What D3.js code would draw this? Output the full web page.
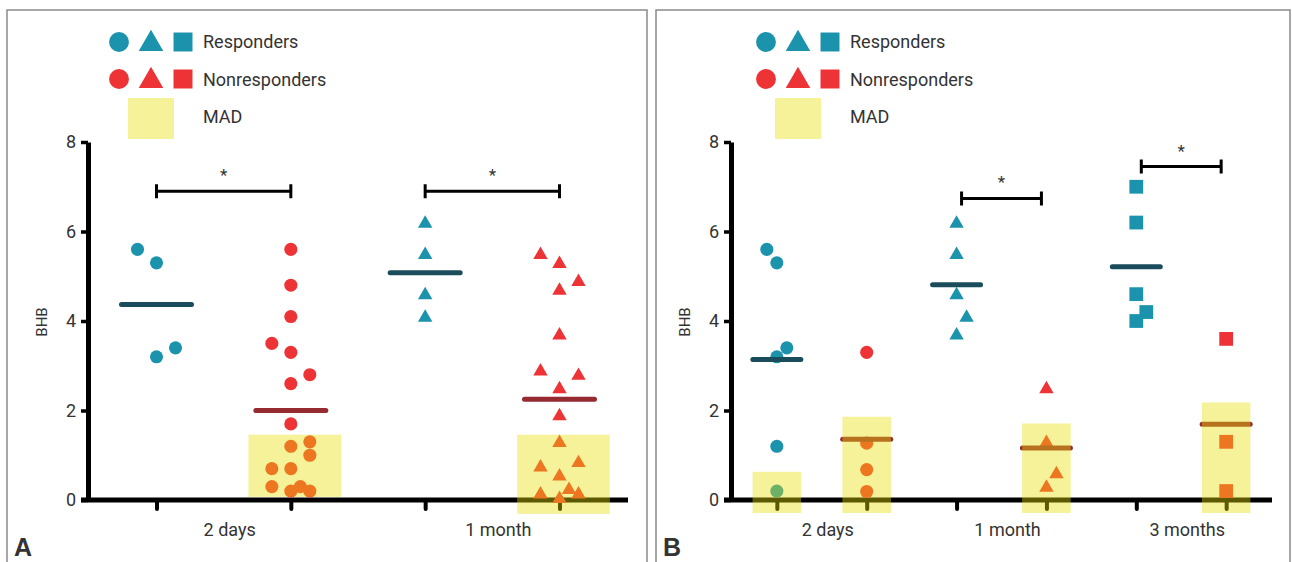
<!DOCTYPE html>
<html>
<head>
<meta charset="utf-8">
<script src="https://cdn.jsdelivr.net/npm/d3@7"></script>
<style>
  body { margin: 0; background: #fff; }
  svg text { font-family: Roboto, "Open Sans", sans-serif; fill: #333; }
</style>
</head>
<body>
<svg id="chart" width="1292" height="562"></svg>
<script>
// ---- data ----
var yTicks = [0, 2, 4, 6, 8];

// panel A
var timepointsA = ["2 days", "1 month"];
var shapesA = ["circle", "triangle"];
// [BHB, lane]  lane = jitter column (-1, 0, 1)
var respValuesA = [
  [[5.6, -1], [5.3, 0], [3.4, 1], [3.2, 0]],
  [[6.2, 0], [5.5, 0], [4.6, 0], [4.1, 0]]
];
var nonValuesA = [
  [[5.6, 0], [4.8, 0], [4.1, 0], [3.5, -1], [3.3, 0], [2.8, 1], [2.6, 0], [1.7, 0], [1.2, 0], [1.3, 1],
   [1.0, 1], [0.7, -1], [0.7, 0], [0.3, -1], [0.2, 0], [0.3, 0.5], [0.2, 1]],
  [[5.5, -1], [5.3, 0], [4.9, 1], [4.7, 0], [3.7, 0], [2.9, -1], [2.8, 1], [2.5, 0], [1.9, 0], [1.3, 0],
   [0.75, -1], [0.85, 1], [0.55, 0], [0.15, -1], [0.25, 0.5], [0.15, 1], [0.05, 0]]
];
var respMeansA = [4.37, 5.08];
var nonMeansA = [2.0, 2.25];
var respMadA = [null, null];
var nonMadA = [[0.07, 1.46], [-0.31, 1.46]];
var sigBarsA = [6.9, 6.9];

// panel B
var timepointsB = ["2 days", "1 month", "3 months"];
var shapesB = ["circle", "triangle", "square"];
var respValuesB = [
  [[5.6, -1], [5.3, 0], [3.4, 1], [3.2, 0], [1.2, 0], [0.2, 0]],
  [[6.2, 0], [5.5, 0], [4.6, 0], [4.1, 1], [3.7, 0]],
  [[7.0, 0], [6.2, 0], [4.6, 0], [4.2, 1], [4.0, 0]]
];
var nonValuesB = [
  [[3.3, 0], [1.27, 0], [0.68, 0], [0.19, 0]],
  [[2.5, 0], [1.3, 0], [0.6, 1], [0.3, 0]],
  [[3.6, 0], [1.3, 0], [0.2, 0]]
];
var respMeansB = [3.14, 4.81, 5.21];
var nonMeansB = [1.36, 1.16, 1.69];
var respMadB = [[-0.29, 0.63], null, null];
var nonMadB = [[-0.29, 1.86], [-0.29, 1.71], [-0.29, 2.18]];
var sigBarsB = [null, 6.74, 7.45];

var legendLabels = ["Responders", "Nonresponders", "MAD"];

// ---- styles ----
var TEAL = "#1b93ad";
var RED = "#ee3336";
var TEAL_DARK = "#1b4c5c";
var RED_DARK = "#952a30";
var MAD_FILL = "rgb(232,222,0)";
var MAD_OPACITY = 0.4;
var FONT = "Roboto, 'Open Sans', sans-serif";

var svg = d3.select("#chart");

var symbolTypes = { circle: d3.symbolCircle, triangle: d3.symbolTriangle, square: d3.symbolSquare };
var symbolSizes = { circle: 135, triangle: 90, square: 190 };
var legendSizes = { circle: 310, triangle: 260, square: 360 };

function buildGroups(timepoints, shapes, rv, nv, rm, nm, rmad, nmad){
  var groups = [];
  timepoints.forEach(function(t, i){
    groups.push({ key: t + "|R", tp: i, shape: shapes[i], resp: true, values: rv[i], mean: rm[i], mad: rmad[i] });
    groups.push({ key: t + "|N", tp: i, shape: shapes[i], resp: false, values: nv[i], mean: nm[i], mad: nmad[i] });
  });
  return groups;
}

function drawPanel(cfg){
  var g = svg.append("g");

  // frame
  g.append("rect")
    .attr("x", cfg.frame[0]).attr("y", 10)
    .attr("width", cfg.frame[1] - cfg.frame[0]).attr("height", 600)
    .attr("fill", "none").attr("stroke", "#8a8a8a").attr("stroke-width", 1.5);

  var y = d3.scaleLinear().domain([0, 8]).range([500, 142]);
  var x = d3.scalePoint()
    .domain(cfg.groups.map(function(d){ return d.key; }))
    .range([cfg.left, cfg.right])
    .padding(0.51);
  var step = x.step();
  var lane = d3.scaleLinear().domain([-1, 1]).range([-cfg.lane, cfg.lane]);

  // y axis
  var yAxis = g.append("g")
    .attr("transform", "translate(" + cfg.left + ",0)")
    .call(d3.axisLeft(y).tickValues(yTicks).tickSize(7).tickSizeOuter(0).tickPadding(5));
  yAxis.select(".domain").attr("stroke", "#000").attr("stroke-width", 5);
  yAxis.selectAll(".tick line").attr("stroke", "#000").attr("stroke-width", 3.5);
  yAxis.selectAll(".tick text")
    .style("font-size", "18px").style("font-family", FONT)
    .attr("fill", "#333");

  // x axis
  var xAxis = g.append("g")
    .attr("transform", "translate(0,500)")
    .call(d3.axisBottom(x).tickSize(9).tickSizeOuter(0).tickFormat(""));
  xAxis.select(".domain").attr("stroke", "#000").attr("stroke-width", 5)
    .attr("d", "M" + (cfg.left - 7) + ",0H" + cfg.right);
  xAxis.selectAll(".tick line").attr("stroke", "#000").attr("stroke-width", 4).attr("stroke-linecap", "round");

  // category labels
  g.selectAll("text.cat").data(cfg.timepoints).enter().append("text")
    .attr("class", "cat")
    .attr("x", function(d, i){ return (x(d + "|R") + x(d + "|N")) / 2 + 6; })
    .attr("y", 536)
    .attr("text-anchor", "middle")
    .style("font-size", "18px")
    .text(function(d){ return d; });

  // y label
  g.append("text")
    .attr("transform", "translate(" + (cfg.left - 41) + ",322) rotate(-90)")
    .attr("text-anchor", "middle")
    .style("font-size", "15px")
    .text("BHB");

  // points
  var pts = [];
  cfg.groups.forEach(function(gr){
    gr.values.forEach(function(v){
      pts.push({ key: gr.key, shape: gr.shape, resp: gr.resp, value: v[0], lane: v[1] });
    });
  });
  g.selectAll("path.pt").data(pts).enter().append("path")
    .attr("class", "pt")
    .attr("transform", function(d){
      var dy = d.shape == "triangle" ? 1 : 0;
      return "translate(" + (x(d.key) + lane(d.lane)) + "," + (y(d.value) + dy) + ")";
    })
    .attr("d", function(d){ return d3.symbol().type(symbolTypes[d.shape]).size(symbolSizes[d.shape])(); })
    .attr("fill", function(d){ return d.resp ? TEAL : RED; });

  // mean lines
  g.selectAll("line.mean").data(cfg.groups).enter().append("line")
    .attr("class", "mean")
    .attr("x1", function(d){ return x(d.key) - cfg.meanHalf; })
    .attr("x2", function(d){ return x(d.key) + cfg.meanHalf; })
    .attr("y1", function(d){ return y(d.mean); })
    .attr("y2", function(d){ return y(d.mean); })
    .attr("stroke", function(d){ return d.resp ? TEAL_DARK : RED_DARK; })
    .attr("stroke-width", 5)
    .attr("stroke-linecap", "round");

  // significance bars
  var bars = cfg.timepoints.map(function(t, i){ return { tp: t, value: cfg.sig[i] }; })
    .filter(function(d){ return d.value != null; });
  var bar = g.selectAll("g.sig").data(bars).enter().append("g").attr("class", "sig");
  bar.append("path")
    .attr("d", function(d){
      var x1 = x(d.tp + "|R") + cfg.sigInset, x2 = x(d.tp + "|N") - cfg.sigInset, yy = y(d.value);
      return "M" + x1 + "," + (yy - 7) + "V" + (yy + 7) + "M" + x1 + "," + yy + "H" + x2 +
        "M" + x2 + "," + (yy - 7) + "V" + (yy + 7);
    })
    .attr("fill", "none").attr("stroke", "#000").attr("stroke-width", 3);
  bar.append("text")
    .attr("x", function(d){ return (x(d.tp + "|R") + x(d.tp + "|N")) / 2; })
    .attr("y", function(d){ return y(d.value) - 10; })
    .attr("text-anchor", "middle")
    .style("font-size", "17px")
    .text("*");

  // MAD boxes sit on top (translucent yellow)
  var boxW = step * cfg.boxFrac;
  g.selectAll("rect.mad").data(cfg.groups.filter(function(d){ return d.mad; })).enter().append("rect")
    .attr("class", "mad")
    .attr("x", function(d){ return x(d.key) - boxW / 2 + cfg.boxShift; })
    .attr("width", boxW)
    .attr("y", function(d){ return y(d.mad[1]); })
    .attr("height", function(d){ return y(d.mad[0]) - y(d.mad[1]); })
    .attr("fill", MAD_FILL).attr("fill-opacity", MAD_OPACITY);

  // legend
  var lg = g.append("g").attr("transform", "translate(" + cfg.legendX + ",0)");
  ["circle", "triangle", "square"].forEach(function(s, i){
    [TEAL, RED].forEach(function(c, j){
      lg.append("path")
        .attr("transform", "translate(" + (i * 32) + "," + (42 + j * 37 + (s == "triangle" ? 2 : 0)) + ")")
        .attr("d", d3.symbol().type(symbolTypes[s]).size(legendSizes[s])())
        .attr("fill", c);
    });
  });
  lg.append("rect")
    .attr("x", 9).attr("y", 98).attr("width", 46).attr("height", 41)
    .attr("fill", MAD_FILL).attr("fill-opacity", MAD_OPACITY);
  lg.selectAll("text").data(legendLabels).enter().append("text")
    .attr("x", 84)
    .attr("y", function(d, i){ return 48 + i * 37.5; })
    .style("font-size", "18px")
    .text(function(d){ return d; });

  // panel letter
  g.append("text")
    .attr("x", cfg.frame[0] + 7).attr("y", 556)
    .style("font-family", "'Liberation Sans', Arial, sans-serif")
    .style("font-weight", "bold").style("font-size", "25px")
    .attr("fill", "#111")
    .text(cfg.letter);
}

drawPanel({
  letter: "A",
  frame: [7, 647],
  left: 88, right: 628,
  lane: 19, meanHalf: 35, boxFrac: 0.69, boxShift: 4, sigInset: 0,
  legendX: 119,
  timepoints: timepointsA,
  sig: sigBarsA,
  groups: buildGroups(timepointsA, shapesA, respValuesA, nonValuesA, respMeansA, nonMeansA, respMadA, nonMadA)
});

drawPanel({
  letter: "B",
  frame: [656, 1290],
  left: 731, right: 1272,
  lane: 10, meanHalf: 24, boxFrac: 0.54, boxShift: 0, sigInset: 5,
  legendX: 766,
  timepoints: timepointsB,
  sig: sigBarsB,
  groups: buildGroups(timepointsB, shapesB, respValuesB, nonValuesB, respMeansB, nonMeansB, respMadB, nonMadB)
});
</script>
</body>
</html>
